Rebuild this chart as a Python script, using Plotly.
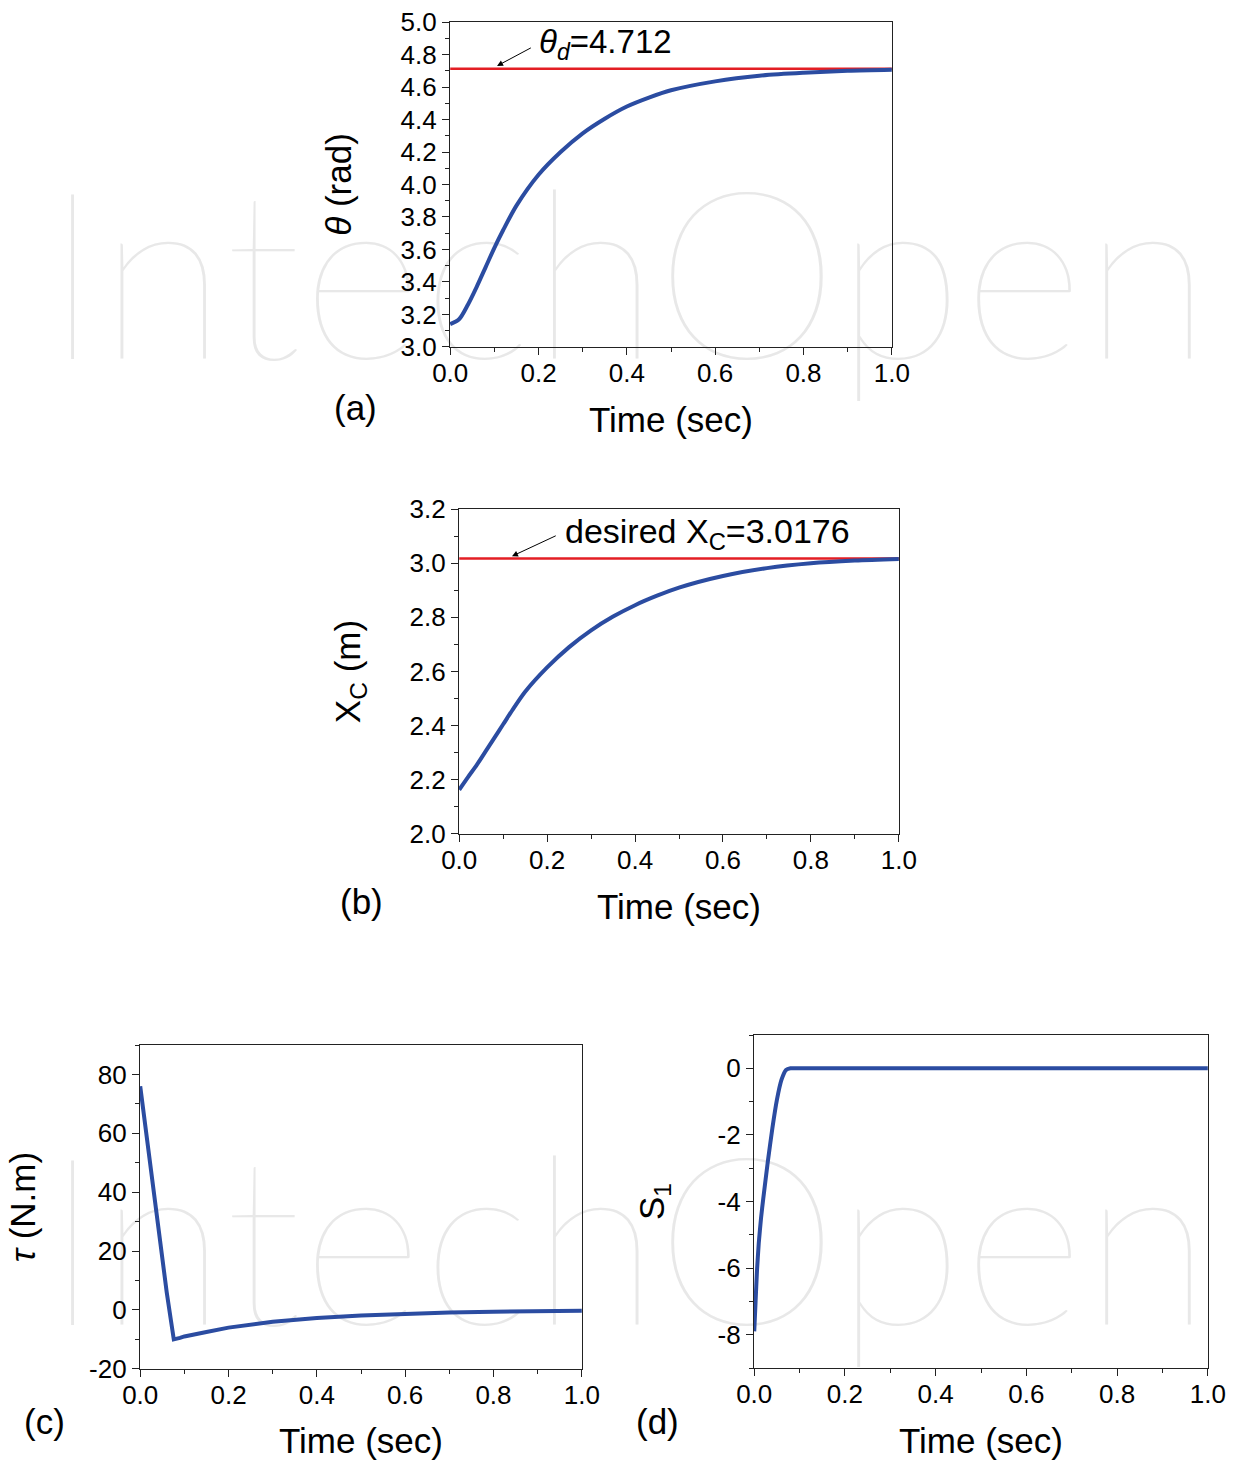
import plotly.graph_objects as go

# ---------------- data ----------------
t_ab = [0, 0.02, 0.04, 0.06, 0.08, 0.10, 0.12, 0.15, 0.20, 0.25, 0.30, 0.35,
        0.40, 0.45, 0.50, 0.60, 0.70, 0.80, 0.90, 1.00]
theta = [3.14, 3.17, 3.26, 3.37, 3.49, 3.61, 3.72, 3.87, 4.06, 4.20, 4.315, 4.405,
         4.48, 4.535, 4.58, 4.635, 4.67, 4.688, 4.70, 4.706]
theta_d = 4.712

xc = [2.163, 2.21, 2.255, 2.305, 2.355, 2.405, 2.455, 2.525, 2.615, 2.69, 2.752, 2.803,
      2.845, 2.88, 2.91, 2.953, 2.982, 3.000, 3.010, 3.016]
xc_d = 3.0176

t_tau = [0, 0.005, 0.01, 0.02, 0.03, 0.04, 0.05, 0.06, 0.07, 0.076, 0.09, 0.10,
         0.15, 0.20, 0.30, 0.40, 0.50, 0.60, 0.70, 0.80, 0.90, 1.00]
tau = [76, 70, 64, 53, 42, 30, 18, 6, -4, -10, -9.5, -9,
       -7.5, -6, -4, -2.7, -1.9, -1.3, -0.9, -0.6, -0.4, -0.3]

t_s1 = [0, 0.003, 0.006, 0.01, 0.015, 0.02, 0.03, 0.04, 0.05, 0.06, 0.07, 0.08,
        0.10, 0.20, 0.40, 0.60, 0.80, 1.00]
s1 = [-7.9, -7.0, -6.1, -5.25, -4.5, -3.9, -2.8, -1.8, -0.95, -0.35, -0.05, 0,
      0, 0, 0, 0, 0, 0]

x_tickvals = [0, 0.2, 0.4, 0.6, 0.8, 1.0]
x_ticktext = ["0.0", "0.2", "0.4", "0.6", "0.8", "1.0"]
a_tickvals = [3.0, 3.2, 3.4, 3.6, 3.8, 4.0, 4.2, 4.4, 4.6, 4.8, 5.0]
a_ticktext = ["3.0", "3.2", "3.4", "3.6", "3.8", "4.0", "4.2", "4.4", "4.6", "4.8", "5.0"]
b_tickvals = [2.0, 2.2, 2.4, 2.6, 2.8, 3.0, 3.2]
b_ticktext = ["2.0", "2.2", "2.4", "2.6", "2.8", "3.0", "3.2"]
c_tickvals = [-20, 0, 20, 40, 60, 80]
c_ticktext = ["-20", "0", "20", "40", "60", "80"]
d_tickvals = [-8, -6, -4, -2, 0]
d_ticktext = ["-8", "-6", "-4", "-2", "0"]

# ---------------- styling ----------------
W, H = 1235, 1460
BLUE = "#2b4ca1"
RED = "#e31e24"
AXC = "#222222"
FONT = "Liberation Sans, Arial, sans-serif"
TICK_FS = 26
TITLE_FS = 35

fig = go.Figure()

# faint watermark (background layer)
fig.add_trace(go.Scatter(
    x=[0.508, 0.508], y=[0.7945, 0.1322], mode="text",
    text=["IntechOpen", "IntechOpen"],
    textfont=dict(family="Lato", size=234, color="#e8e8e8", weight=100),
    xaxis="x", yaxis="y", hoverinfo="skip", showlegend=False, cliponaxis=False))

# (a)
fig.add_trace(go.Scatter(x=[t_ab[0], t_ab[-1]], y=[theta_d, theta_d], mode="lines",
                         line=dict(color=RED, width=2.5), xaxis="x2", yaxis="y2",
                         showlegend=False))
fig.add_trace(go.Scatter(x=t_ab, y=theta, mode="lines",
                         line=dict(color=BLUE, width=4, shape="spline", smoothing=0.8),
                         xaxis="x2", yaxis="y2", showlegend=False))
# (b)
fig.add_trace(go.Scatter(x=[t_ab[0], t_ab[-1]], y=[xc_d, xc_d], mode="lines",
                         line=dict(color=RED, width=2.5), xaxis="x3", yaxis="y3",
                         showlegend=False))
fig.add_trace(go.Scatter(x=t_ab, y=xc, mode="lines",
                         line=dict(color=BLUE, width=4, shape="spline", smoothing=0.8),
                         xaxis="x3", yaxis="y3", showlegend=False))
# (c)
fig.add_trace(go.Scatter(x=t_tau, y=tau, mode="lines",
                         line=dict(color=BLUE, width=4),
                         xaxis="x4", yaxis="y4", showlegend=False))
# (d)
fig.add_trace(go.Scatter(x=t_s1, y=s1, mode="lines",
                         line=dict(color=BLUE, width=4, shape="spline", smoothing=0.5),
                         xaxis="x5", yaxis="y5", showlegend=False))


def px_dom(a, b, total):
    return [a / total, b / total]


def ydom(top, bottom):
    return [1 - bottom / H, 1 - top / H]


def xax(dom, anchor, minor_dtick, standoff):
    return dict(domain=dom, anchor=anchor, range=[-0.0005, 1.0005],
                tickmode="array", tickvals=x_tickvals, ticktext=x_ticktext,
                ticks="outside", ticklen=7, tickwidth=1.3, tickcolor=AXC,
                minor=dict(ticks="outside", ticklen=4, tickwidth=1.2, tickcolor=AXC,
                           dtick=minor_dtick, tick0=0),
                showline=True, linecolor=AXC, linewidth=1.3, mirror=True,
                showgrid=False, zeroline=False, automargin=False,
                tickfont=dict(family=FONT, size=TICK_FS, color="#000"),
                title=dict(text="Time (sec)", standoff=standoff,
                           font=dict(family=FONT, size=TITLE_FS, color="#000")))


def yax(dom, anchor, rng, tv, tt, minor_dtick, title, standoff):
    return dict(domain=dom, anchor=anchor, range=rng,
                tickmode="array", tickvals=tv, ticktext=tt,
                ticks="outside", ticklen=7, tickwidth=1.3, tickcolor=AXC,
                minor=dict(ticks="outside", ticklen=4, tickwidth=1.2, tickcolor=AXC,
                           dtick=minor_dtick, tick0=0),
                showline=True, linecolor=AXC, linewidth=1.3, mirror=True,
                showgrid=False, zeroline=False, automargin=False,
                tickfont=dict(family=FONT, size=TICK_FS, color="#000"),
                title=dict(text=title, standoff=standoff,
                           font=dict(family=FONT, size=TITLE_FS, color="#000")))


layout = dict(
    width=W, height=H, template="none",
    margin=dict(l=0, r=0, t=0, b=0, pad=0),
    paper_bgcolor="white", plot_bgcolor="rgba(0,0,0,0)",
    showlegend=False,
    font=dict(family=FONT, color="#000"),
    xaxis=dict(domain=[0, 1], range=[0, 1], visible=False, fixedrange=True),
    yaxis=dict(domain=[0, 1], range=[0, 1], visible=False, fixedrange=True),
    xaxis2=xax(px_dom(450, 892, W), "y2", 0.1, 20),
    yaxis2=yax(ydom(22, 347), "x2", [2.9995, 5.0005], a_tickvals, a_ticktext, 0.1,
               "<i>θ</i> (rad)", 38),
    xaxis3=xax(px_dom(459, 899, W), "y3", 0.1, 20),
    yaxis3=yax(ydom(509, 834), "x3", [1.9995, 3.2005], b_tickvals, b_ticktext, 0.1,
               "X<sub>C</sub> (m)", 38),
    xaxis4=xax(px_dom(140, 582, W), "y4", 0.1, 20),
    yaxis4=yax(ydom(1045, 1369), "x4", [-20.05, 90], c_tickvals, c_ticktext, 10,
               "<i>τ</i> (N.m)", 42),
    xaxis5=xax(px_dom(754, 1208, W), "y5", 0.1, 20),
    yaxis5=yax(ydom(1035, 1368), "x5", [-9, 1], d_tickvals, d_ticktext, 1,
               "S<sub>1</sub>", 42),
)
fig.update_layout(**layout)

for ax_name in ["xaxis2", "xaxis3", "xaxis4", "xaxis5"]:
    try:
        fig.layout[ax_name].ticklabelstandoff = -4
    except Exception:
        pass

ann_font = dict(family=FONT, size=TITLE_FS, color="#000")
annotations = [
    # (a) arrow + label
    dict(xref="x2", yref="y2", x=0.106, y=4.73, axref="x2", ayref="y2",
         ax=0.186, ay=4.846, text="", showarrow=True, arrowhead=2,
         arrowsize=1.2, arrowwidth=1, arrowcolor="#000"),
    dict(xref="x2", yref="y2", x=0.197, y=4.865, xanchor="left", yanchor="middle",
         text="<i>θ</i><sub><i>d</i></sub>=4.712", showarrow=False,
         font=dict(family=FONT, size=33, color="#000")),
    # (b) arrow + label
    dict(xref="x3", yref="y3", x=0.12, y=3.026, axref="x3", ayref="y3",
         ax=0.223, ay=3.104, text="", showarrow=True, arrowhead=2,
         arrowsize=1.2, arrowwidth=1, arrowcolor="#000"),
    dict(xref="x3", yref="y3", x=0.236, y=3.111, xanchor="left", yanchor="middle",
         text="desired X<sub>C</sub>=3.0176", showarrow=False,
         font=dict(family=FONT, size=34, color="#000")),
    # panel letters
    dict(xref="paper", yref="paper", x=355 / W, y=1 - 408 / H, text="(a)",
         xanchor="center", yanchor="middle", showarrow=False, font=ann_font),
    dict(xref="paper", yref="paper", x=361 / W, y=1 - 901 / H, text="(b)",
         xanchor="center", yanchor="middle", showarrow=False, font=ann_font),
    dict(xref="paper", yref="paper", x=45 / W, y=1 - 1421 / H, text="(c)",
         xanchor="center", yanchor="middle", showarrow=False, font=ann_font),
    dict(xref="paper", yref="paper", x=657 / W, y=1 - 1421 / H, text="(d)",
         xanchor="center", yanchor="middle", showarrow=False, font=ann_font),
]
fig.update_layout(annotations=annotations)

fig.write_html("out.html", config={"displayModeBar": False},
               post_script="document.body.style.margin='0px';")
